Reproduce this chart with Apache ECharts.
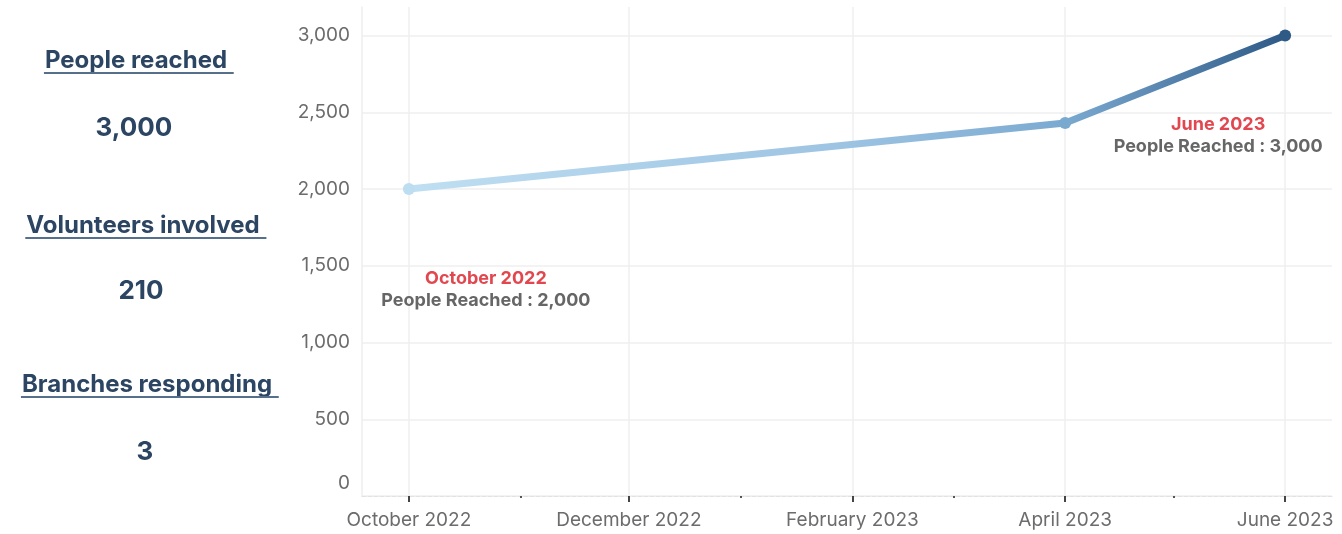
<!DOCTYPE html>
<html>
<head>
<meta charset="utf-8">
<script src="https://cdn.jsdelivr.net/npm/echarts@6/dist/echarts.min.js"></script>
<style>
html,body{margin:0;padding:0;background:#fff;}
#chart{width:1342px;height:534px;}
</style>
</head>
<body>
<div id="chart"></div>
<script>
// ---- data ----
const pointDates = ['2022-10-01', '2023-04-01', '2023-06-01'];
const peopleReached = [2000, 2430, 3000];
const pointLabels = ['October 2022', '', 'June 2023'];
const xTickDates = ['2022-10-01', '2022-12-01', '2023-02-01', '2023-04-01', '2023-06-01'];
const xTickLabels = ['October 2022', 'December 2022', 'February 2023', 'April 2023', 'June 2023'];
const xMinorTickDates = ['2022-11-01', '2023-01-01', '2023-03-01', '2023-05-01'];
const yTicks = [0, 500, 1000, 1500, 2000, 2500, 3000];
const kpiTitles = ['People reached', 'Volunteers involved', 'Branches responding'];
const kpiValues = [3000, 210, 3];

// ---- helpers ----
const ts = s => { const p = s.split('-').map(Number); return Date.UTC(p[0], p[1] - 1, p[2]); };
const fmt = n => n.toLocaleString('en-US');
const FONT = 'Inter, "Open Sans", sans-serif';
function textWidth(str, font) {
  const c = document.createElement('canvas').getContext('2d');
  c.font = font;
  return c.measureText(str).width;
}

const majorTs = xTickDates.map(ts);
const minorTs = xMinorTickDates.map(ts);
const xMin = ts('2022-09-18'), xMax = ts('2023-06-14');

// KPI panel layout
const kpiLayout = [
  { cx: 136, ty: 61, vy: 128, uy: 73 },
  { cx: 143, ty: 226, vy: 291, uy: 238 },
  { cx: 147, ty: 385, vy: 452, uy: 397 }
];
const titleFont = 'bold 24px ' + FONT;
const valueFont = 'bold 26px ' + FONT;
const kpiColor = '#2b4562';
const graphics = [];
kpiTitles.forEach((t, i) => {
  const L = kpiLayout[i];
  const w = textWidth(t + ' ', titleFont);
  const tw = textWidth(t, titleFont);
  graphics.push({
    type: 'text', x: L.cx, y: L.ty,
    style: { text: t, font: titleFont, fill: kpiColor, textAlign: 'center', textVerticalAlign: 'middle' }
  });
  graphics.push({
    type: 'line',
    shape: { x1: L.cx - tw / 2 - 1, y1: L.uy, x2: L.cx - tw / 2 + w + 1, y2: L.uy },
    style: { stroke: '#566f8b', lineWidth: 2 }
  });
  graphics.push({
    type: 'text', x: L.cx - 2, y: L.vy,
    style: { text: fmt(kpiValues[i]), font: valueFont, fill: kpiColor, textAlign: 'center', textVerticalAlign: 'middle' }
  });
});

const symbolColors = ['#bddef1', '#7aa9d0', '#2e5a86'];
const labelOffsets = [[77, 101], null, [-67, 100]];

const seriesData = pointDates.map((d, i) => {
  const item = {
    value: [ts(d), peopleReached[i]],
    itemStyle: { color: symbolColors[i] }
  };
  if (pointLabels[i]) {
    item.label = { show: true, position: 'inside', offset: labelOffsets[i] };
  }
  return item;
});

const chart = echarts.init(document.getElementById('chart'), null, { renderer: 'canvas' });
chart.setOption({
  animation: false,
  backgroundColor: '#ffffff',
  textStyle: { fontFamily: FONT },
  grid: { left: 362, right: 10, top: 7, bottom: 38, containLabel: false, outerBoundsMode: 'none' },
  xAxis: [{
    type: 'value', min: xMin, max: xMax, position: 'bottom',
    axisLine: { show: true, lineStyle: { color: '#e2e2e2', type: 'dashed', width: 1 } },
    axisTick: { show: true, customValues: majorTs, length: 6, lineStyle: { color: '#444', width: 2 } },
    axisLabel: {
      show: true, customValues: majorTs, color: '#6c6c6c', fontSize: 19, margin: 15, fontFamily: FONT,
      formatter: v => { const k = majorTs.indexOf(+v); return k >= 0 ? xTickLabels[k] : ''; }
    },
    splitLine: { show: true, lineStyle: { color: '#efefef', width: 1.5 } }
  }, {
    type: 'value', min: xMin, max: xMax, position: 'bottom', offset: 0,
    axisLine: { show: false },
    axisTick: { show: true, customValues: minorTs, length: 2, lineStyle: { color: '#555', width: 2 } },
    axisLabel: { show: false },
    splitLine: { show: false }
  }],
  yAxis: {
    type: 'value', min: 0, max: 3186, interval: 500,
    axisLine: { show: true, lineStyle: { color: '#eeeeee', width: 1.5 } },
    axisTick: { show: false, customValues: yTicks },
    axisLabel: {
      customValues: yTicks, color: '#6c6c6c', fontSize: 19, margin: 12, fontFamily: FONT,
      formatter: v => v === 0 ? '{low|0}' : fmt(v),
      rich: { low: { fontSize: 19, color: '#6c6c6c', fontFamily: FONT, padding: [0, 0, 25, 0] } }
    },
    splitLine: { show: true, lineStyle: { color: '#efefef', width: 1.5 } }
  },
  series: [{
    type: 'line',
    xAxisIndex: 0,
    data: seriesData,
    symbol: 'circle',
    symbolSize: 12,
    lineStyle: {
      width: 7,
      color: new echarts.graphic.LinearGradient(0, 0, 1, 0, [
        { offset: 0, color: '#c0dff2' },
        { offset: 0.5, color: '#9cc3e2' },
        { offset: 0.75, color: '#7aa9d0' },
        { offset: 1, color: '#2d5886' }
      ])
    },
    label: {
      show: false,
      formatter: p => {
        const i = p.dataIndex;
        return '{d|' + pointLabels[i] + '}\n{v|People Reached : ' + fmt(peopleReached[i]) + '}';
      },
      rich: {
        d: { color: '#e2474f', fontSize: 18, fontWeight: 'bold', fontFamily: FONT, lineHeight: 22, align: 'center' },
        v: { color: '#666666', fontSize: 18, fontWeight: 'bold', fontFamily: FONT, lineHeight: 22, align: 'center' }
      }
    },
    z: 3
  }],
  graphic: graphics
});
</script>
</body>
</html>
